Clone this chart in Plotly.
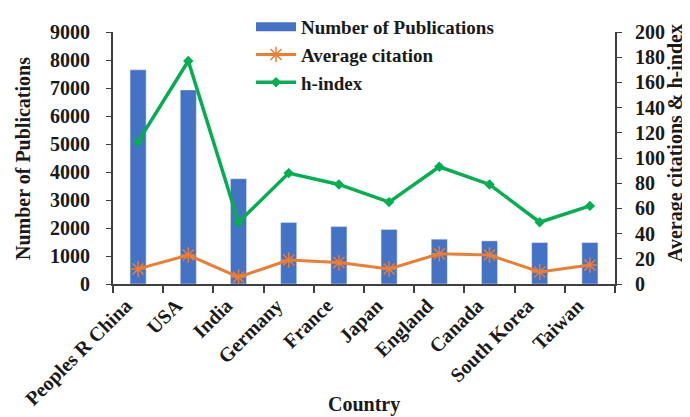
import plotly.graph_objects as go

countries = ["Peoples R China", "USA", "India", "Germany", "France", "Japan",
             "England", "Canada", "South Korea", "Taiwan"]
publications = [7650, 6930, 3760, 2200, 2050, 1950, 1600, 1540, 1480, 1480]
avg_citation = [12, 23, 5.5, 19, 17, 12, 24, 23, 9.5, 15]
h_index = [113, 177, 49, 88, 79, 65, 93, 79, 49, 62]

FONT = "Liberation Serif"
BLACK = "#1a1a1a"
BLUE = "#4472C4"
ORANGE = "#ED7D31"
GREEN = "#00B050"

W, H = 690, 417
ML, MR, MT, MB = 105, 83, 0, 141
PW = W - ML - MR
PH = H - MT - MB
PLOT_TOP = 24  # pixel y of the top of the y axes


def px_x(x):
    return (x - ML) / PW


def px_y(y):
    return (H - MB - y) / PH


fig = go.Figure()
fig.add_trace(go.Bar(x=countries, y=publications, name="Number of Publications",
                     marker_color=BLUE, width=0.32, yaxis="y", showlegend=False))
# legend stand-in for the bar series (wide rectangle swatch)
fig.add_trace(go.Scatter(x=[None], y=[None], name="Number of Publications",
                         mode="lines", line=dict(color=BLUE, width=9), yaxis="y"))
fig.add_trace(go.Scatter(x=countries, y=avg_citation, name="Average citation",
                         mode="lines+markers", yaxis="y2",
                         line=dict(color=ORANGE, width=3),
                         marker=dict(symbol="asterisk", size=13,
                                     line=dict(color=ORANGE, width=1.5))))
fig.add_trace(go.Scatter(x=countries, y=h_index, name="h-index",
                         mode="lines+markers", yaxis="y2",
                         line=dict(color=GREEN, width=3.5),
                         marker=dict(symbol="diamond", size=8, color=GREEN)))

tickfont = dict(family=FONT, size=20, weight="bold", color=BLACK)
titlefont = dict(family=FONT, size=20, weight="bold", color=BLACK)
dom_top = px_y(PLOT_TOP)

fig.update_layout(
    width=W, height=H,
    margin=dict(l=ML, r=MR, t=MT, b=MB),
    paper_bgcolor="white", plot_bgcolor="white",
    font=dict(family=FONT, size=20, color=BLACK),
    showlegend=True,
    legend=dict(x=px_x(243), y=1.0, xanchor="left", yanchor="top",
                bgcolor="rgba(0,0,0,0)",
                font=dict(size=19, family=FONT, weight="bold", color=BLACK),
                tracegroupgap=0, itemwidth=40),
    xaxis=dict(showline=True, linecolor="#404040", linewidth=2, ticks="outside",
               tickson="boundaries", ticklen=7, tickcolor="#404040", tickwidth=1.5,
               tickangle=-45, tickfont=tickfont, automargin=False,
               ticklabelshift=-12,
               range=[-0.5, 9.5]),
    yaxis=dict(range=[0, 9000], dtick=1000, showgrid=False, showline=True,
               domain=[0, dom_top],
               linecolor="#404040", linewidth=2, ticks="outside", ticklen=5,
               tickcolor="#404040", tickfont=tickfont, automargin=False,
               ticklabelstandoff=12, zeroline=False),
    yaxis2=dict(range=[0, 200], dtick=20, overlaying="y", side="right", showgrid=False,
                showline=True, linecolor="#404040", linewidth=2, ticks="outside",
                ticklen=5, tickcolor="#404040", tickfont=tickfont, automargin=False,
                ticklabelstandoff=9, zeroline=False),
    annotations=[
        dict(text="Country", x=0.5, y=px_y(396), xref="paper", yref="paper",
             showarrow=False, font=titlefont, xanchor="center", yanchor="middle"),
        dict(text="Number of Publications", x=px_x(15), y=px_y(151), xref="paper",
             yref="paper", showarrow=False, font=titlefont, textangle=-90,
             xanchor="center", yanchor="middle"),
        dict(text="Average citations & h-index", x=px_x(667), y=px_y(135), xref="paper",
             yref="paper", showarrow=False, font=titlefont, textangle=-90,
             xanchor="center", yanchor="middle"),
    ],
)

fig.write_html("out.html")
